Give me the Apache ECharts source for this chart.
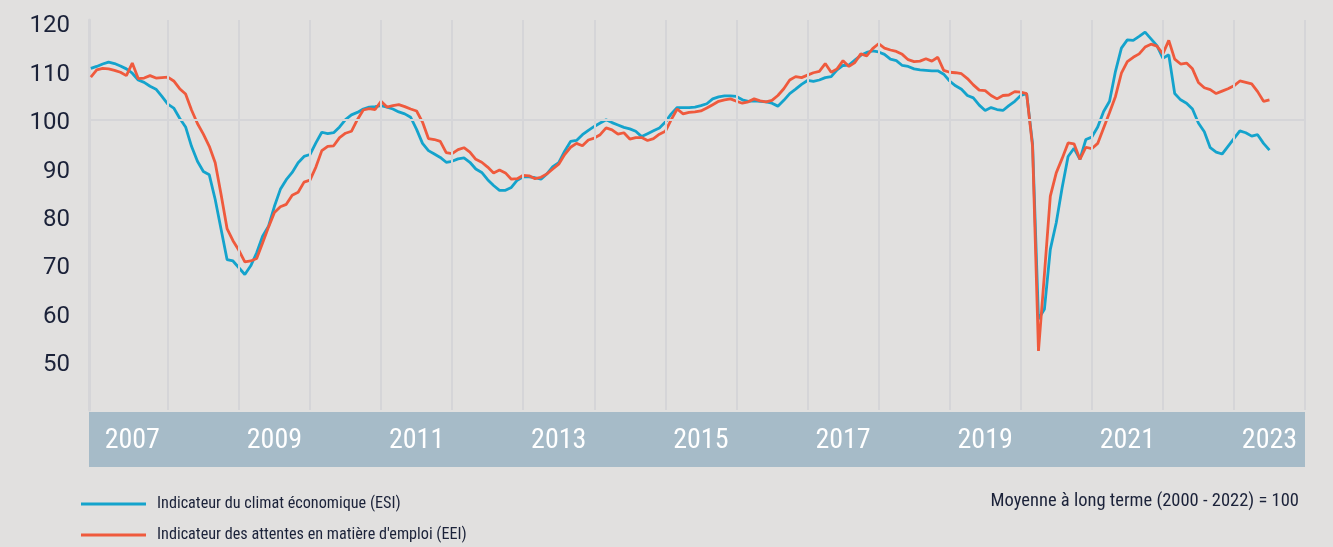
<!DOCTYPE html>
<html><head><meta charset="utf-8">
<script src="https://cdn.jsdelivr.net/npm/echarts@6.0.0/dist/echarts.min.js"></script>
<style>html,body{margin:0;padding:0;background:#e1e0df;}#c{width:1333px;height:547px;}</style>
</head><body><div id="c"></div>
<script>
// Monthly data, first point = December 2006
const firstYear = 2006, firstMonth = 12;
const esiValues = [
110.6,111.0,111.5,111.9,111.6,111.1,110.5,109.6,108.2,107.7,106.9,106.3,
104.8,103.2,102.4,100.3,98.5,94.5,91.4,89.3,88.6,83.5,77.3,71.1,
70.8,69.4,68.0,69.8,72.5,75.9,78.0,82.1,85.6,87.6,89.1,91.1,
92.4,92.8,95.2,97.4,97.1,97.3,98.5,100.0,101.0,101.5,102.2,102.6,
102.7,102.9,102.6,102.2,101.6,101.2,100.5,98.0,95.1,93.6,92.9,92.2,
91.2,91.4,91.9,92.1,91.2,89.8,89.1,87.6,86.4,85.4,85.4,86.0,
87.5,88.2,88.2,88.0,87.7,88.8,90.3,91.1,93.5,95.5,95.7,96.9,
97.8,98.6,99.3,100.0,99.4,98.9,98.4,98.1,97.6,96.5,97.1,97.7,
98.3,99.5,101.2,102.5,102.5,102.5,102.6,102.9,103.3,104.3,104.7,104.9,
104.9,104.8,104.1,103.8,103.9,103.8,103.7,103.4,102.8,104.0,105.4,106.3,
107.3,108.1,107.9,108.2,108.7,108.9,110.3,111.2,111.3,112.3,113.3,113.9,
114.2,114.0,113.5,112.5,112.2,111.2,111.0,110.5,110.3,110.2,110.1,110.1,
109.4,108.0,107.0,106.3,105.0,104.5,103.0,101.9,102.5,102.1,101.9,102.9,
103.8,105.0,105.4,95.0,58.8,60.8,73.2,78.7,86.0,92.4,94.1,91.8,
95.9,96.4,98.5,101.7,103.8,110.0,114.8,116.5,116.4,117.2,118.1,116.7,
115.3,112.7,113.4,105.4,104.1,103.4,102.2,99.3,97.5,94.2,93.3,92.9,
94.5,96.1,97.7,97.3,96.6,96.9,95.1,93.7
];
const eeiValues = [
108.8,110.3,110.6,110.5,110.2,109.8,109.1,111.7,108.5,108.6,109.1,108.6,
108.7,108.8,108.0,106.4,105.3,102.0,99.2,97.0,94.5,91.1,84.5,77.5,
75.0,73.0,70.6,70.8,71.3,74.5,77.8,80.8,82.0,82.5,84.4,85.0,
87.1,87.5,90.2,93.6,94.5,94.6,96.3,97.2,97.6,100.0,102.0,102.3,
102.1,103.8,102.6,102.9,103.1,102.7,102.2,101.8,99.5,96.1,95.9,95.5,
93.2,93.0,93.8,94.2,93.3,91.8,91.2,90.2,89.0,89.6,89.0,87.7,
87.8,88.5,88.4,87.8,88.1,88.8,89.8,90.8,92.8,94.3,95.1,94.6,
95.8,96.2,96.9,98.3,97.9,97.0,97.3,96.0,96.3,96.3,95.7,96.1,
97.0,97.6,100.0,102.2,101.2,101.5,101.6,101.8,102.4,103.1,103.8,104.1,
104.3,103.8,103.4,103.7,104.3,103.9,103.7,104.0,105.0,106.4,108.2,108.9,
108.7,109.2,109.7,110.0,111.6,109.8,110.5,112.2,111.0,111.8,113.6,113.2,
114.7,115.7,114.8,114.4,114.1,113.5,112.4,112.0,112.1,112.6,112.1,112.9,
110.2,109.8,109.7,109.5,108.5,107.2,106.1,106.0,105.0,104.3,105.0,105.1,
105.8,105.7,105.4,94.5,52.2,68.0,84.2,89.0,92.0,95.2,95.0,91.8,
94.3,94.0,95.1,98.3,101.5,104.8,109.6,112.0,112.9,113.6,115.0,115.6,
115.2,113.6,116.4,112.5,111.5,111.7,110.5,107.7,106.6,106.2,105.4,105.9,
106.4,107.0,108.0,107.7,107.4,105.8,103.8,104.1
];
const yTickLabels = [50,60,70,80,90,100,110,120];
const xLabelYears = [2007,2009,2011,2013,2015,2017,2019,2021,2023];
const yearLines = [2008,2009,2010,2011,2012,2013,2014,2015,2016,2017,2018,2019,2020,2021,2022,2023,2024];
const seriesNames = ['Indicateur du climat économique (ESI)', "Indicateur des attentes en matière d'emploi (EEI)"];
const noteText = 'Moyenne à long terme (2000 - 2022) = 100';

const t0 = firstYear + (firstMonth - 1) / 12;
const toPairs = arr => arr.map((v, i) => [t0 + i / 12, v]);

const condensed = "'Roboto Condensed','Liberation Sans Narrow','DejaVu Sans Condensed',Roboto,sans-serif";
const txt = '#1b2239';
const gridCol = '#d5d5d8';

const chart = echarts.init(document.getElementById('c'), null, {renderer: 'canvas'});
chart.setOption({
  backgroundColor: '#e1e0df',
  animation: false,
  grid: {left: 89, right: 28, top: 20, bottom: 137, containLabel: false},
  xAxis: {
    type: 'value', min: 2006.891, max: 2024,
    axisLine: {show: false}, axisTick: {show: false}, splitLine: {show: false},
    axisLabel: {
      customValues: xLabelYears.map(y => y + 0.5),
      formatter: v => String(Math.floor(v)),
      color: '#ffffff', fontFamily: condensed, fontSize: 28,
      verticalAlign: 'middle', margin: 31
    }
  },
  yAxis: {
    type: 'value', min: 40, max: 120.6, interval: 10,
    axisLine: {show: true, lineStyle: {color: gridCol, width: 3}},
    axisTick: {show: false}, splitLine: {show: false},
    axisLabel: {
      formatter: v => {
        const r = Math.round(v);
        return yTickLabels.indexOf(r) >= 0 && Math.abs(v - r) < 1e-6 ? '{n|' + r + '}' : '';
      },
      margin: 19, verticalAlign: 'middle',
      rich: {n: {color: txt, fontFamily: 'Roboto', fontSize: 24, padding: [7, 0, 0, 0]}}
    }
  },
  legend: {
    orient: 'vertical', left: 81, top: 494, itemGap: 11, padding: 0,
    itemWidth: 65, itemHeight: 3, icon: 'rect',
    data: seriesNames,
    textStyle: {color: txt, fontFamily: condensed, fontSize: 16.2, padding: [0, 0, 0, 6], lineHeight: 20}
  },
  graphic: [
    {type: 'rect', left: 89, top: 412, z: -10, shape: {width: 1216, height: 55}, style: {fill: '#a6bbc8'}},
    {type: 'text', right: 34, top: 492, style: {text: noteText, fill: txt, font: "18.5px " + condensed}}
  ],
  series: [
    {type: 'line', name: '_grid', data: [], silent: true, z: 1,
     markLine: {silent: true, symbol: 'none', label: {show: false},
       lineStyle: {color: gridCol, width: 2, type: 'solid'},
       data: [{yAxis: 100}].concat(yearLines.map(y => ({xAxis: y})))}},
    {type: 'line', name: seriesNames[0], data: toPairs(esiValues), showSymbol: false, z: 3,
     lineStyle: {color: '#14a3cc', width: 2.8}, itemStyle: {color: '#14a3cc'}},
    {type: 'line', name: seriesNames[1], data: toPairs(eeiValues), showSymbol: false, z: 4,
     lineStyle: {color: '#ef5a3d', width: 2.8}, itemStyle: {color: '#ef5a3d'}}
  ]
});
</script></body></html>
